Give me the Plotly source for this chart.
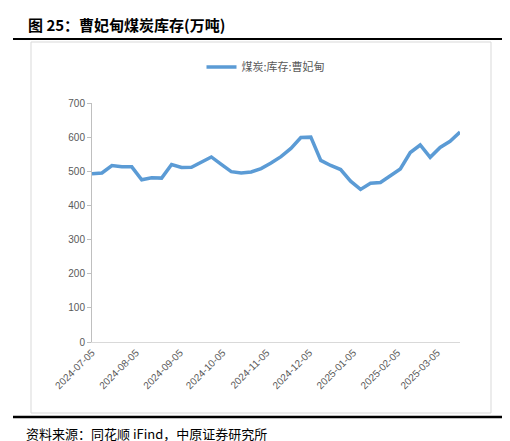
import plotly.graph_objects as go
import pandas as pd

start_date = "2024-07-05"
values = [493, 495, 517, 513, 513, 475, 481, 480, 520, 511, 512, 528, 542, 520, 499, 495,
          498, 508, 524, 543, 567, 599, 600, 532, 517, 505, 471, 447, 465, 467, 487, 507,
          555, 577, 541, 570, 588, 615]
dates = pd.date_range(start_date, periods=len(values), freq="7D")
tick_dates = ["2024-07-05", "2024-08-05", "2024-09-05", "2024-10-05", "2024-11-05",
              "2024-12-05", "2025-01-05", "2025-02-05", "2025-03-05"]
series_name = "煤炭:库存:曹妃甸"

W, H = 510, 441
L, R, T, B = 84, 452, 95, 334

fig = go.Figure(go.Scatter(x=dates, y=values, mode="lines", name=series_name,
                           line=dict(color="#5B9BD5", width=3.5)))

def px(x): return (x - L) / (R - L)
def py(y): return (B - y) / (B - T)

shapes = [
    dict(type="rect", xref="paper", yref="paper", x0=px(23), x1=px(483), y0=py(405), y1=py(34),
         line=dict(color="#D9D9D9", width=1), layer="below"),
    dict(type="line", xref="paper", yref="paper", x0=px(5), x1=px(505), y0=py(31), y1=py(31),
         line=dict(color="black", width=2)),
    dict(type="line", xref="paper", yref="paper", x0=px(5), x1=px(505), y0=py(409), y1=py(409),
         line=dict(color="black", width=2.5)),
]
fig.update_layout(
    width=W, height=H, paper_bgcolor="white", plot_bgcolor="rgba(0,0,0,0)",
    margin=dict(l=L, r=W - R, t=T, b=H - B, autoexpand=False),
    font=dict(family="Liberation Sans, Noto Sans CJK SC", color="#595959", size=10),
    shapes=shapes,
    showlegend=True,
    legend=dict(orientation="h", x=px(258), xanchor="center",
                y=py(59), yanchor="middle", font=dict(size=11, color="#595959",
                family="Noto Sans CJK SC")),
    xaxis=dict(type="date", tickvals=tick_dates, ticktext=tick_dates, tickangle=-45,
               range=[dates[0], dates[-1]], showgrid=False, showline=True,
               linecolor="#D9D9D9", ticks="", tickfont=dict(size=10, color="#595959"),
               automargin=False),
    yaxis=dict(range=[0, 700], dtick=100, showgrid=False, showline=True, linecolor="#BFBFBF",
               ticks="outside", ticklen=4, tickcolor="#BFBFBF", zeroline=False,
               tickfont=dict(size=10, color="#595959"), automargin=False),
    annotations=[
        dict(text="<b>图 25：曹妃甸煤炭库存(万吨)</b>", xref="paper", yref="paper",
             x=px(18), y=py(16), xanchor="left", yanchor="middle", showarrow=False,
             font=dict(size=15, color="black", family="Noto Sans CJK SC")),
        dict(text="资料来源：同花顺 iFind，中原证券研究所", xref="paper", yref="paper",
             x=px(16), y=py(425), xanchor="left", yanchor="middle", showarrow=False,
             font=dict(size=13, color="black", family="Noto Sans CJK SC")),
    ],
)
fig.write_html("out.html")
